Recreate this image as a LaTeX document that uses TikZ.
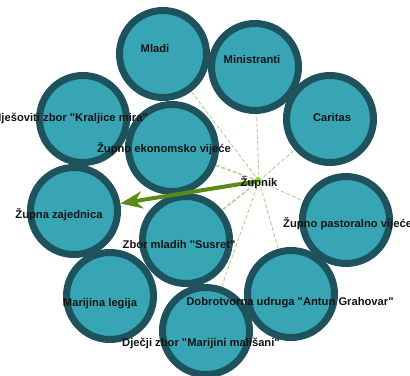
\documentclass[tikz,border=0pt]{standalone}
\usepackage{fontspec}
\setmainfont{Liberation Sans}[Ligatures=TeXOff]
\usetikzlibrary{arrows.meta}
\definecolor{cfill}{HTML}{38A5B5}
\definecolor{cborder}{HTML}{1E525C}
\definecolor{edgec}{HTML}{B8C690}
\definecolor{arrowc}{HTML}{5B8A16}
\definecolor{dotc}{HTML}{8EDB2B}
\pgfdeclarelayer{background}
\pgfsetlayers{background,main}
\begin{document}
\begin{tikzpicture}[x=1bp,y=-1bp,
 grp/.style={circle, fill=cfill, draw=cborder, line width=7bp, minimum size=87bp, inner sep=0pt},
 lbl/.style={font=\fontsize{11.2bp}{13bp}\selectfont\bfseries, text=black!92, inner sep=0pt},
 tie/.style={draw=edgec, line width=0.8bp, dash pattern=on 4bp off 2bp},
 lead/.style={draw=arrowc, line width=4bp, -{Stealth[length=22bp,width=17bp,inset=7bp]}},
 hub/.style={circle, fill=dotc, minimum size=6bp, inner sep=0pt}
]
\useasboundingbox (0,0) rectangle (410,376);
\begin{pgfonlayer}{background}
\fill[white] (0,0) rectangle (410,376);
\end{pgfonlayer}
\clip (0,0) rectangle (410,376);
% circles
\node[grp] (kra) at (83,119) {};
\node[grp] (mla) at (163,54) {};
\node[grp] (min) at (255,67) {};
\node[grp] (car) at (330,119) {};
\node[grp] (zaj) at (74,211) {};
\node[grp] (eko) at (172,148) {};
\node[grp] (mar) at (110,296) {};
\node[grp] (zbo) at (186,240) {};
\node[grp] (pas) at (346,220) {};
\node[grp] (dje) at (206,331) {};
\node[grp] (dob) at (291,294) {};
% hub
\coordinate (zupc) at (259,181);
% thin edges, behind the circles
\begin{pgfonlayer}{background}
\foreach \t in {kra,mla,min,car,eko,mar,zbo,pas,dje,dob}
  \draw[tie] (zupc) -- (\t.center);
\end{pgfonlayer}
% thick arrow
\draw[lead] (zupc) -- (zaj);
\node[hub] (zup) at (258,180) {};
% labels
\node[lbl] (lmla) at (155,48) {Mladi};
\node[lbl] (lmin) at (252,59) {Ministranti};
\node[lbl] (lcar) at (332,117) {Caritas};
\node[lbl,anchor=east] (lkra) at (148,118) {Mješoviti zbor "Kraljice mira"};
\node[lbl] (leko) at (164,149) {Župno ekonomsko vijeće};
\node[lbl] (lzup) at (259,183) {Župnik};
\node[lbl] (lzaj) at (59,215) {Župna zajednica};
\node[lbl] (lzbo) at (179,244) {Zbor mladih "Susret"};
\node[lbl,anchor=west] (lpas) at (283,224) {Župno pastoralno vijeće};
\node[lbl] (lmar) at (100,304) {Marijina legija};
\node[lbl] (ldob) at (290,303) {Dobrotvorna udruga "Antun Grahovar"};
\node[lbl] (ldje) at (201,343) {Dječji zbor "Marijini mališani"};
\end{tikzpicture}
\end{document}
